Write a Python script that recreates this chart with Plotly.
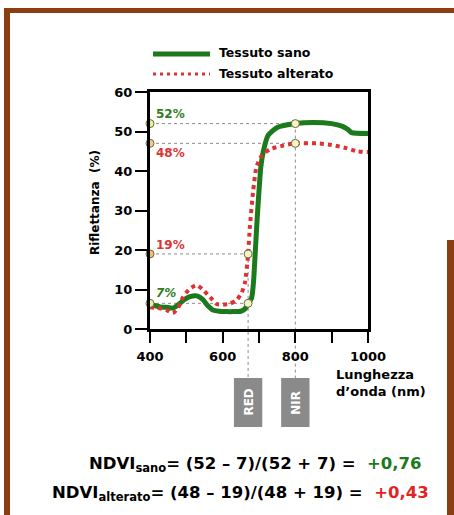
import plotly.graph_objects as go

W, H = 454, 515

# ---------------- data ----------------
wl_sano = [400, 410, 427, 445, 463, 480, 495, 510, 529, 545, 560, 573, 590, 610, 630, 650, 660, 670,
           680, 685, 690, 695, 700, 705, 712, 725, 750, 800, 850, 900, 930, 945, 955, 1000]
refl_sano = [6.1, 6.0, 5.6, 5.5, 5.3, 6.3, 7.5, 8.2, 8.4, 7.5, 5.8, 4.8, 4.5, 4.4, 4.4, 4.5, 5.0, 6.3,
             8.0, 12, 20, 28, 35, 41, 45, 49, 51, 52, 52.3, 52, 51.3, 50.5, 49.7, 49.5]

wl_alt = [400, 422, 445, 463, 478, 491, 510, 529, 545, 565, 584, 600, 620, 638, 652, 661, 670, 675,
          684, 693, 708, 730, 760, 800, 860, 900, 940, 970, 1000]
refl_alt = [5.5, 5.3, 4.8, 4.0, 5.5, 8.1, 10.2, 11.1, 10.0, 8.1, 6.3, 6.2, 6.4, 7.3, 9.1, 11.6, 19, 26,
            35, 41, 44, 45.5, 46.3, 47, 47, 46.6, 45.8, 45, 44.8]

band_names = ["RED", "NIR"]
band_wl = [670, 800]

# reflectance read at the two bands (marker positions) and their printed labels
sano_pts = [6.5, 52]      # RED, NIR
alt_pts = [19, 47]        # RED, NIR
sano_labels = [7, 52]
alt_labels = [19, 48]

x_ticks = [400, 500, 600, 700, 800, 900, 1000]
x_ticktext = ["400", " ", "600", " ", "800", " ", "1000"]
y_ticks = [0, 10, 20, 30, 40, 50, 60]

legend_names = ["Tessuto sano", "Tessuto alterato"]

GREEN = "#1b7a1b"
RED = "#de3232"
TXT_GREEN = "#2f7d22"
TXT_RED = "#da3535"
BROWN = "#8b3f10"
FONT = "DejaVu Sans, Verdana, sans-serif"

# ---------------- layout helpers (pixel -> paper) ----------------
def px(x):
    return x / W

def py(y):
    return 1 - y / H

xdom = [px(150), px(368)]
ydom = [py(329), py(92)]
YMAX = 60

def yval_paper(v):
    return ydom[0] + v / YMAX * (ydom[1] - ydom[0])

fig = go.Figure()

# guide lines (horizontal, dotted grey)
for v in (sano_pts[1], alt_pts[1]):
    fig.add_trace(go.Scatter(x=[400, band_wl[1]], y=[v, v], mode="lines",
                             line=dict(color="#8c8c8c", width=1, dash="dot"),
                             hoverinfo="skip"))
for v in (sano_pts[0], alt_pts[0]):
    fig.add_trace(go.Scatter(x=[400, band_wl[0]], y=[v, v], mode="lines",
                             line=dict(color="#8c8c8c", width=1, dash="dot"),
                             hoverinfo="skip"))

# curves
fig.add_trace(go.Scatter(x=wl_sano, y=refl_sano, mode="lines", name=legend_names[0],
                         line=dict(color=GREEN, width=5, shape="spline", smoothing=0.6)))
fig.add_trace(go.Scatter(x=wl_alt, y=refl_alt, mode="lines", name=legend_names[1],
                         line=dict(color=RED, width=4, dash="4px,4px", shape="spline", smoothing=0.6)))

# markers
left_cols = ["#e8f0a0", "#f6c98c", "#f4bf7c", "#e8f0a0"]
mk_y_left = [sano_pts[1], alt_pts[1], alt_pts[0], sano_pts[0]]
fig.add_trace(go.Scatter(x=[400] * 4, y=mk_y_left, mode="markers", cliponaxis=False,
                         marker=dict(size=8, color=left_cols, line=dict(color="#6b6b3a", width=1)),
                         hoverinfo="skip"))
fig.add_trace(go.Scatter(x=[band_wl[1], band_wl[1], band_wl[0], band_wl[0]],
                         y=[sano_pts[1], alt_pts[1], alt_pts[0], sano_pts[0]],
                         mode="markers", cliponaxis=False,
                         marker=dict(size=8, color="#f6f4c4", line=dict(color="#6b6b3a", width=1)),
                         hoverinfo="skip"))

shapes = []
annotations = []

# vertical guide lines down to the band boxes
box_top = py(378)
box_bot = py(427)
for wl, v in zip(band_wl, [alt_pts[0], sano_pts[1]]):
    shapes.append(dict(type="line", xref="x", yref="paper", x0=wl, x1=wl,
                       y0=yval_paper(v), y1=box_top,
                       line=dict(color="#8c8c8c", width=1, dash="dot"), layer="below"))

# band boxes
for name, wl in zip(band_names, band_wl):
    shapes.append(dict(type="rect", xref="x", yref="paper", x0=wl - 39, x1=wl + 39,
                       y0=box_bot, y1=box_top, fillcolor="#8a8a8a", line=dict(width=0),
                       layer="below"))
    annotations.append(dict(x=wl, y=(box_top + box_bot) / 2, xref="x", yref="paper",
                            xanchor="center", yanchor="middle",
                            text="<b>%s</b>" % name, textangle=-90, showarrow=False,
                            font=dict(family=FONT, size=12, color="white")))

# percentage labels
annotations += [
    dict(x=400, y=sano_pts[1], text="<b>%d%%</b>" % sano_labels[1], xanchor="left", yanchor="bottom",
         xshift=4, yshift=1, showarrow=False, font=dict(family=FONT, size=12, color=TXT_GREEN)),
    dict(x=400, y=alt_pts[1], text="<b>%d%%</b>" % alt_labels[1], xanchor="left", yanchor="top",
         xshift=4, yshift=-1, showarrow=False, font=dict(family=FONT, size=12, color=TXT_RED)),
    dict(x=400, y=alt_pts[0], text="<b>%d%%</b>" % alt_labels[0], xanchor="left", yanchor="bottom",
         xshift=4, yshift=0, showarrow=False, font=dict(family=FONT, size=12, color=TXT_RED)),
    dict(x=400, y=sano_pts[0], text="<b><i>%d%%</i></b>" % sano_labels[0], xanchor="left", yanchor="bottom",
         xshift=4, yshift=1, showarrow=False, font=dict(family=FONT, size=12, color=TXT_GREEN)),
]

# axis titles
annotations.append(dict(x=px(95), y=py(203), xref="paper", yref="paper",
                        xanchor="center", yanchor="middle",
                        text="<b>Riflettanza  (%)</b>", textangle=-90, showarrow=False,
                        font=dict(family=FONT, size=12, color="black")))
annotations.append(dict(x=px(334), y=py(383), xref="paper", yref="paper",
                        xanchor="left", yanchor="middle",
                        text="<b>Lunghezza<br>d’onda (nm)</b>", showarrow=False, align="left",
                        font=dict(family=FONT, size=13, color="black")))

# legend (manual)
shapes.append(dict(type="line", xref="paper", yref="paper", x0=px(153), x1=px(210),
                   y0=py(54), y1=py(54), line=dict(color=GREEN, width=5)))
shapes.append(dict(type="line", xref="paper", yref="paper", x0=px(153), x1=px(210),
                   y0=py(74), y1=py(74), line=dict(color=RED, width=3, dash="3px,4px")))
for name, yy in zip(legend_names, [52, 74]):
    annotations.append(dict(x=px(217), y=py(yy), xref="paper", yref="paper",
                            xanchor="left", yanchor="middle",
                            text="<b>%s</b>" % name, showarrow=False,
                            font=dict(family=FONT, size=12.5, color="black")))

# NDVI formulas
def ndvi(nir, red):
    return (nir - red) / (nir + red)

def fmt(v):
    return ("%+.2f" % v).replace(".", ",")

ndvi_sano = ndvi(sano_labels[1], sano_labels[0])
ndvi_alt = ndvi(alt_labels[1], alt_labels[0])
line1 = ("<b>NDVI<sub>sano</sub>= (%d – %d)/(%d + %d) =  <span style='color:%s'>%s</span></b>"
         % (sano_labels[1], sano_labels[0], sano_labels[1], sano_labels[0], GREEN, fmt(ndvi_sano)))
line2 = ("<b>NDVI<sub>alterato</sub>= (%d – %d)/(%d + %d) =  <span style='color:%s'>%s</span></b>"
         % (alt_labels[1], alt_labels[0], alt_labels[1], alt_labels[0], "#e02424", fmt(ndvi_alt)))
annotations.append(dict(x=px(424), y=py(464), xref="paper", yref="paper",
                        xanchor="right", yanchor="middle",
                        text=line1, showarrow=False, font=dict(family=FONT, size=16.5, color="black")))
annotations.append(dict(x=px(431), y=py(493), xref="paper", yref="paper",
                        xanchor="right", yanchor="middle",
                        text=line2, showarrow=False, font=dict(family=FONT, size=16.5, color="black")))

# brown frame
shapes.append(dict(type="rect", xref="paper", yref="paper", x0=px(4), x1=px(454), y0=py(13), y1=py(8),
                   fillcolor=BROWN, line=dict(width=0)))
shapes.append(dict(type="rect", xref="paper", yref="paper", x0=px(4), x1=px(10), y0=py(515), y1=py(8),
                   fillcolor=BROWN, line=dict(width=0)))
shapes.append(dict(type="rect", xref="paper", yref="paper", x0=px(447), x1=px(454), y0=py(515), y1=py(240),
                   fillcolor=BROWN, line=dict(width=0)))

fig.update_layout(
    width=W, height=H, margin=dict(l=0, r=0, t=0, b=0, pad=0, autoexpand=False),
    paper_bgcolor="white", plot_bgcolor="white", showlegend=False,
    shapes=shapes, annotations=annotations,
    font=dict(family=FONT, color="black"),
    xaxis=dict(domain=xdom, range=[400, 1000], showline=True, linewidth=3, linecolor="black",
               mirror=True, ticks="outside", ticklen=11, tickwidth=1.5, tickcolor="black",
               tickvals=x_ticks, ticktext=x_ticktext, showgrid=False, zeroline=False,
               automargin=False, ticklabelstandoff=2,
               tickfont=dict(family=FONT, size=13, color="black", weight="bold")),
    yaxis=dict(domain=ydom, range=[0, YMAX], showline=True, linewidth=3, linecolor="black",
               mirror=True, ticks="outside", ticklen=12, tickwidth=1.5, tickcolor="black",
               tickvals=y_ticks, showgrid=False, zeroline=False, automargin=False,
               tickfont=dict(family=FONT, size=13, color="black", weight="bold")),
)

fig.write_html("out.html")
